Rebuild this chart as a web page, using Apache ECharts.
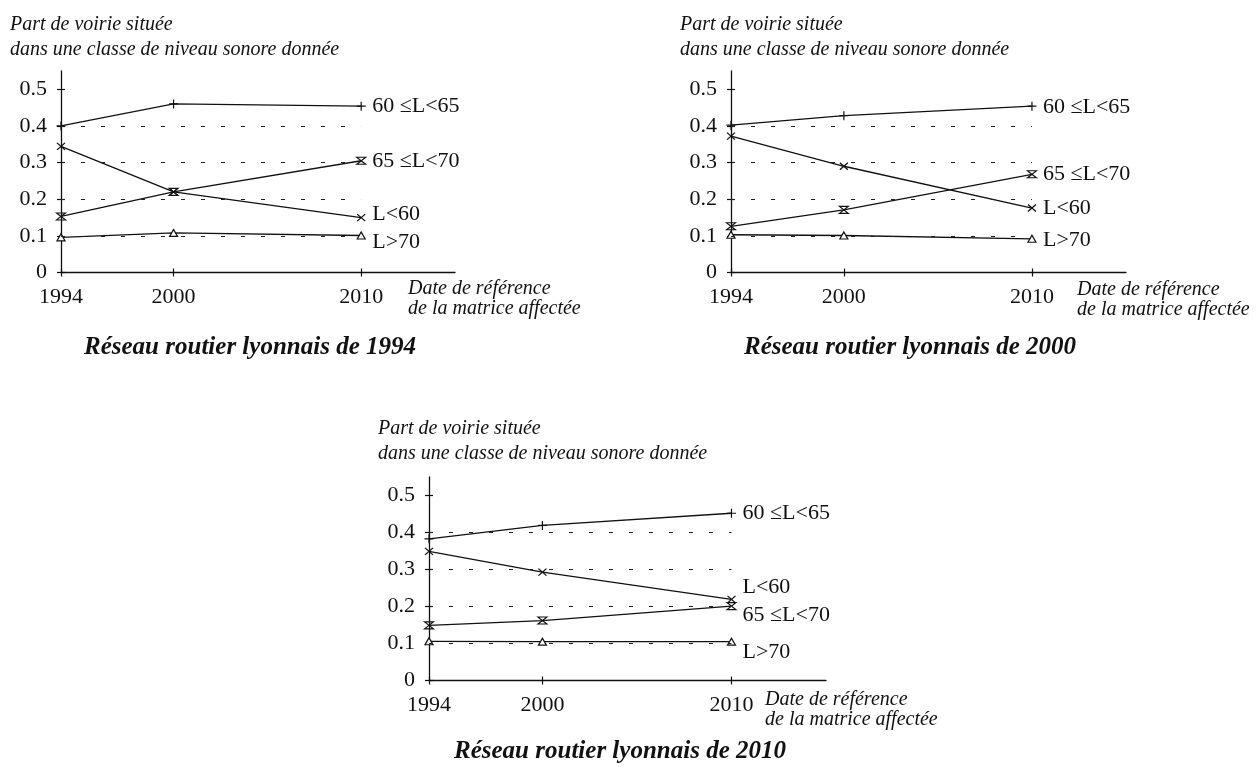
<!DOCTYPE html>
<html>
<head>
<meta charset="utf-8">
<script src="https://cdn.jsdelivr.net/npm/echarts@6/dist/echarts.min.js"></script>
<style>
html,body{margin:0;padding:0;background:#fff;}
#c{width:1258px;height:767px;}
</style>
</head>
<body>
<div id="c"></div>
<script>
// ---- data ----
var years = [1994, 2000, 2010];
var yTicks = [0, 0.1, 0.2, 0.3, 0.4, 0.5];
var gridValues = [0.1, 0.2, 0.3, 0.4];
var classNames = ['60 ≤L<65', 'L<60', '65 ≤L<70', 'L>70'];

var r1994_60_65 = [0.400, 0.460, 0.454];
var r1994_lt60  = [0.344, 0.220, 0.150];
var r1994_65_70 = [0.153, 0.220, 0.305];
var r1994_gt70  = [0.096, 0.108, 0.101];

var r2000_60_65 = [0.402, 0.428, 0.454];
var r2000_lt60  = [0.372, 0.290, 0.176];
var r2000_65_70 = [0.126, 0.171, 0.268];
var r2000_gt70  = [0.103, 0.101, 0.092];

var r2010_60_65 = [0.383, 0.419, 0.452];
var r2010_lt60  = [0.349, 0.293, 0.219];
var r2010_65_70 = [0.149, 0.162, 0.201];
var r2010_gt70  = [0.106, 0.105, 0.105];

var chartTitles = ['Réseau routier lyonnais de 1994', 'Réseau routier lyonnais de 2000', 'Réseau routier lyonnais de 2010'];
var yTitle = 'Part de voirie située\ndans une classe de niveau sonore donnée';
var xTitle = 'Date de référence\nde la matrice affectée';

// ---- layout / style ----
var FONT = '"Liberation Serif","Times New Roman",serif';
var INK = '#111';
var grids = [
  {left: 61, top: 71, width: 394, height: 201.5},
  {left: 731, top: 71, width: 395, height: 201.5},
  {left: 429, top: 477, width: 397, height: 203.5}
];
var seriesSets = [
  [r1994_60_65, r1994_lt60, r1994_65_70, r1994_gt70],
  [r2000_60_65, r2000_lt60, r2000_65_70, r2000_gt70],
  [r2010_60_65, r2010_lt60, r2010_65_70, r2010_gt70]
];
var labelDy = [
  [0, -3, 0, 7],
  [1, 0, 0, 1],
  [0, -12, 9, 11]
];
var symbols = [
  'path://M5 0 L5 10 M0 5 L10 5',
  'path://M0 0 L10 10 M10 0 L0 10',
  'path://M0 0 L10 0 L0 10 L10 10 Z',
  'path://M5 0 L10 9 L0 9 Z'
];
var symbolSizes = [[9, 9], [8, 7], [9, 7], [8, 7]];

var option = {
  animation: false,
  backgroundColor: '#fff',
  grid: [], xAxis: [], yAxis: [], series: [], graphic: []
};

grids.forEach(function (g, i) {
  option.grid.push({left: g.left, top: g.top, width: g.width, height: g.height, containLabel: false});
  var axisLine = {show: true, lineStyle: {color: INK, width: 1.3}};
  // main x axis (labels + outside ticks)
  option.xAxis.push({
    type: 'value', gridIndex: i, min: 1994, max: 2015, position: 'bottom',
    axisLine: axisLine,
    axisTick: {show: true, length: 4, lineStyle: {color: INK, width: 1.2}, customValues: years},
    axisLabel: {show: true, customValues: years, margin: 14, fontSize: 22, fontFamily: FONT, color: INK,
      formatter: function (v) { return String(Math.round(v)); }},
    splitLine: {show: false}
  });
  // overlay x axis (inside ticks)
  option.xAxis.push({
    type: 'value', gridIndex: i, min: 1994, max: 2015, position: 'bottom',
    axisLine: {show: false},
    axisTick: {show: true, inside: true, length: 4, lineStyle: {color: INK, width: 1.2}, customValues: years},
    axisLabel: {show: false},
    splitLine: {show: false}
  });
  option.yAxis.push({
    type: 'value', gridIndex: i, min: 0, max: 0.55, position: 'left',
    axisLine: axisLine,
    axisTick: {show: true, length: 4, lineStyle: {color: INK, width: 1.2}, customValues: yTicks},
    axisLabel: {show: true, customValues: yTicks, margin: 14, fontSize: 22, fontFamily: FONT, color: INK,
      formatter: function (v) { return v === 0 ? '0' : v.toFixed(1); }},
    splitLine: {show: false}
  });
  option.yAxis.push({
    type: 'value', gridIndex: i, min: 0, max: 0.55, position: 'left',
    axisLine: {show: false},
    axisTick: {show: true, inside: true, length: 4, lineStyle: {color: INK, width: 1.2}, customValues: yTicks},
    axisLabel: {show: false},
    splitLine: {show: false}
  });

  seriesSets[i].forEach(function (vals, k) {
    var s = {
      type: 'line', name: classNames[k],
      xAxisIndex: 2 * i, yAxisIndex: 2 * i,
      data: years.map(function (y, j) { return [y, vals[j]]; }),
      symbol: symbols[k], symbolSize: symbolSizes[k], showSymbol: true,
      lineStyle: {color: INK, width: 1.3},
      itemStyle: {color: k === 3 ? '#fff' : 'rgba(0,0,0,0)', borderColor: INK, borderWidth: 1.2},
      endLabel: {show: true, formatter: classNames[k], distance: 11, offset: [0, labelDy[i][k]],
        fontSize: 22, fontFamily: FONT, color: INK},
      emphasis: {disabled: true}, silent: true, z: 3
    };
    if (k === 0) {
      s.markLine = {
        silent: true, symbol: ['none', 'none'], label: {show: false},
        lineStyle: {color: '#222', width: 1.1, type: [4, 16]},
        data: gridValues.map(function (v) { return [{coord: [1994, v]}, {coord: [2010, v]}]; })
      };
    }
    option.series.push(s);
  });
});

var yTitlePos = [[10, 12], [680, 12], [378, 416]];
var xTitlePos = [[408, 279], [1077, 280], [765, 690]];
var titlePos = [[250, 348], [910, 348], [620, 752]];
for (var i = 0; i < 3; i++) {
  option.graphic.push({type: 'text', x: yTitlePos[i][0], y: yTitlePos[i][1], silent: true,
    style: {text: yTitle, font: 'italic 20px ' + FONT, lineHeight: 25, fill: INK}});
  option.graphic.push({type: 'text', x: xTitlePos[i][0], y: xTitlePos[i][1], silent: true,
    style: {text: xTitle, font: 'italic 20px ' + FONT, lineHeight: 20, fill: INK}});
  option.graphic.push({type: 'text', x: titlePos[i][0], y: titlePos[i][1], silent: true,
    style: {text: chartTitles[i], font: 'italic bold 25px ' + FONT, fill: INK,
      textAlign: 'center', textVerticalAlign: 'middle'}});
}

var chart = echarts.init(document.getElementById('c'), null, {renderer: 'canvas'});
chart.setOption(option);
</script>
</body>
</html>
